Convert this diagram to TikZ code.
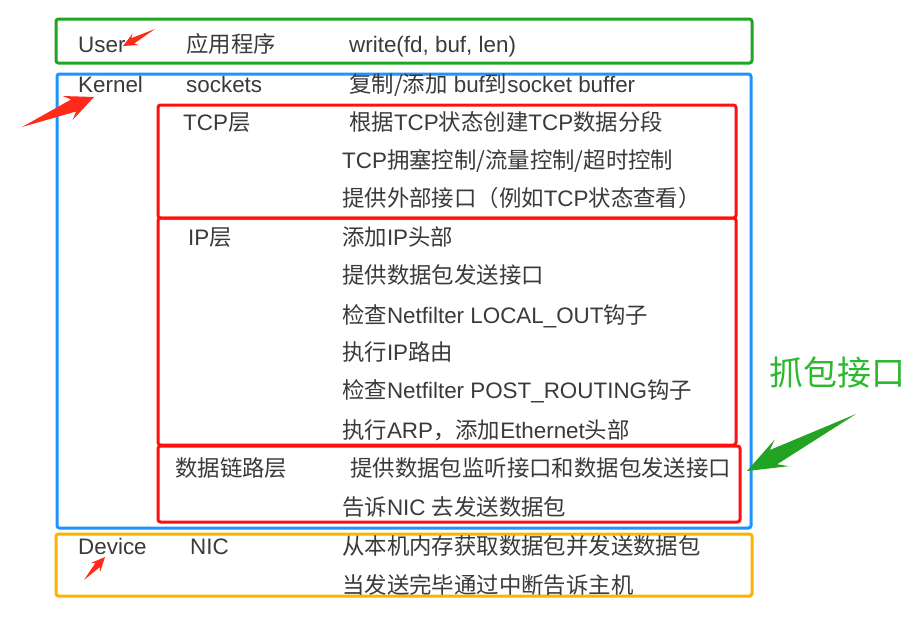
\documentclass[tikz,border=0pt]{standalone}
\usepackage{fontspec}
\setmainfont{Liberation Sans}
\newfontfamily\cjk{Noto Sans CJK SC}
\usetikzlibrary{calc}
\definecolor{txt}{HTML}{3A3A3A}
\definecolor{gbox}{HTML}{1FA51F}
\definecolor{bbox}{HTML}{1E93FF}
\definecolor{rbox}{HTML}{FF1010}
\definecolor{obox}{HTML}{FFB300}
\definecolor{rarr}{HTML}{FF2A1A}
\definecolor{garr}{HTML}{22A322}
\definecolor{gtxt}{HTML}{2DB82D}
\newcommand\tarrow[6]{%
  \coordinate (ta) at #1; \coordinate (hd) at #2;
  \coordinate (bs) at ($(hd)!#3pt!(ta)$);
  \coordinate (bb) at ($(hd)!#3pt+0.3*#3pt!(ta)$);
  \fill[#6] (ta) -- ($(bs)!#4pt!90:(hd)$) -- ($(bb)!#5pt!90:(hd)$) -- (hd)
     -- ($(bb)!#5pt!-90:(hd)$) -- ($(bs)!#4pt!-90:(hd)$) -- cycle;}
\begin{document}
\begin{tikzpicture}[x=1pt,y=-1pt,
  lbl/.style={anchor=base west,inner sep=0pt,text=txt,font=\fontsize{22.4}{23}\selectfont},
  frame/.style={line width=3pt,rounded corners=2.5pt},
]
\useasboundingbox[fill=white] (0,0) rectangle (922,632);
% frames
\draw[frame,gbox] (56,19) rectangle (752,63);
\draw[frame,bbox] (57,74) rectangle (751,528);
\draw[frame,obox] (56,534) rectangle (752,596);
\draw[frame,rbox] (158,105) rectangle (736,218);
\draw[frame,rbox] (158,218) rectangle (736,445);
\draw[frame,rbox] (158,446) rectangle (740,522);
% column 1
\node[lbl] (user) at (78,52) {User};
\node[lbl] (kernel) at (78,92) {Kernel};
\node[lbl] (device) at (78,554) {Device};
% column 2
\node[lbl] (app) at (186,52) {\cjk 应用程序};
\node[lbl] (sock) at (186,92) {sockets};
\node[lbl] (tcp) at (183,130) {TCP{\cjk 层}};
\node[lbl] (ip) at (188,245) {IP{\cjk 层}};
\node[lbl] (dl) at (175,476) {\cjk 数据链路层};
\node[lbl] (nic) at (190,554) {NIC};
% column 3
\node[lbl] (t1) at (349,52) {write(fd, buf, len)};
\node[lbl] (t2) at (349,92) {{\cjk 复制/添加} buf{\cjk 到}socket buffer};
\node[lbl] (t3) at (349,130) {{\cjk 根据}TCP{\cjk 状态创建}TCP{\cjk 数据分段}};
\node[lbl] (t4) at (342,168) {TCP{\cjk 拥塞控制/流量控制/超时控制}};
\node[lbl] (t5) at (342,206) {{\cjk 提供外部接口（例如}TCP{\cjk 状态查看）}};
\node[lbl] (t6) at (342,245) {{\cjk 添加}IP{\cjk 头部}};
\node[lbl] (t7) at (342,283) {\cjk 提供数据包发送接口};
\node[lbl] (t8) at (342,323) {{\cjk 检查}Netfilter LOCAL\_OUT{\cjk 钩子}};
\node[lbl] (t9) at (342,360) {{\cjk 执行}IP{\cjk 路由}};
\node[lbl] (t10) at (342,398) {{\cjk 检查}Netfilter POST\_ROUTING{\cjk 钩子}};
\node[lbl] (t11) at (342,438) {{\cjk 执行}ARP{\cjk ，添加}Ethernet{\cjk 头部}};
\node[lbl] (t12) at (350,476) {\cjk 提供数据包监听接口和数据包发送接口};
\node[lbl] (t13) at (342,515) {{\cjk 告诉}NIC {\cjk 去发送数据包}};
\node[lbl] (t14) at (342,554) {\cjk 从本机内存获取数据包并发送数据包};
\node[lbl] (t15) at (342,593) {\cjk 当发送完毕通过中断告诉主机};
% capture label
\node[anchor=base west,inner sep=0pt,text=gtxt,font=\cjk\fontsize{34}{35}\selectfont] (cap) at (769,385) {抓包接口};
% arrows
\tarrow{(155,29)}{(123,46)}{11}{3}{6.5}{rarr}
\tarrow{(22,127)}{(94,97)}{22}{6.5}{13}{rarr}
\tarrow{(84,580)}{(105,557)}{11}{3}{6.5}{rarr}
\tarrow{(856,414)}{(747,471)}{30}{8}{15}{garr}
\end{tikzpicture}
\end{document}
